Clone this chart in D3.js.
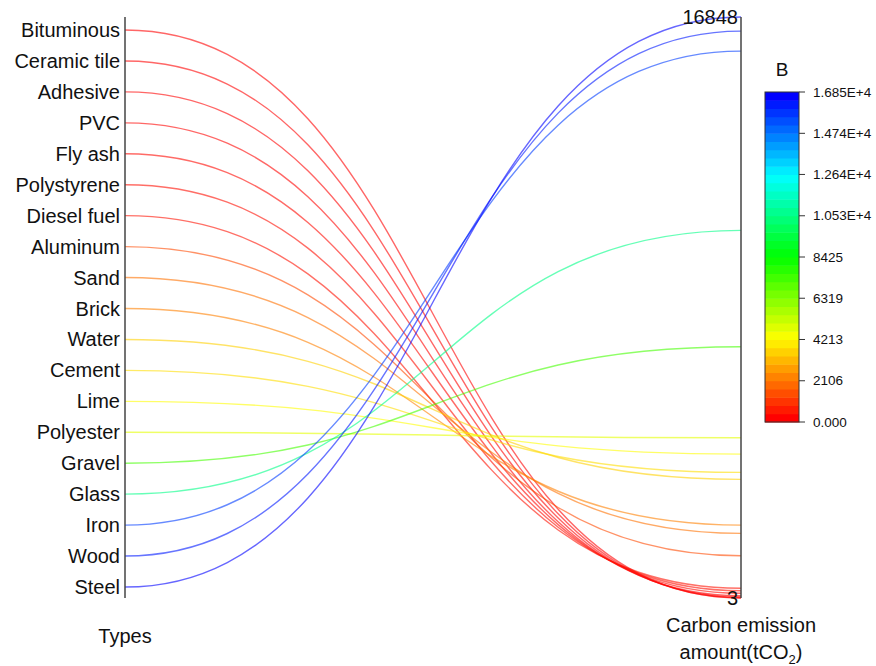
<html>
<head>
    <meta charset="utf-8">
    <title>Carbon emission by material type</title>
    <script src="https://cdn.jsdelivr.net/npm/d3@7"></script>
    <style type="text/css">
        body { margin: 0; background: #fff; }
        text { font-family: "Liberation Sans", Arial, sans-serif; fill: #111; }
    </style>
</head>
<body>
<script type="text/javascript">
    var types = ["Bituminous", "Ceramic tile", "Adhesive", "PVC", "Fly ash", "Polystyrene", "Diesel fuel",
        "Aluminum", "Sand", "Brick", "Water", "Cement", "Lime", "Polyester", "Gravel", "Glass", "Iron", "Wood", "Steel"];
    var emissions = [3, 12, 35, 70, 140, 215, 285, 1227, 1876, 2117, 3441, 3644, 4175, 4648, 7286, 10661, 15859, 16439, 16848];
    var colorTicks = [0, 2106, 4213, 6319, 8425, 10530, 12640, 14740, 16850];
    var colorTickLabels = ["0.000", "2106", "4213", "6319", "8425", "1.053E+4", "1.264E+4", "1.474E+4", "1.685E+4"];

    var w = 876, h = 666;
    var xLeft = 125, xRight = 741;

    var svg = d3.select("body").append("svg").attr("width", w).attr("height", h);

    var yLeft = d3.scalePoint().domain(types).range([30, 587]);
    var yRight = d3.scaleLinear().domain([3, 16848]).range([598, 17]);

    var color = d3.scaleLinear()
        .domain([0, 4213, 8425, 12640, 16850])
        .range(["#ff0000", "#ffff00", "#00ff00", "#00ffff", "#0000ff"]);

    var link = d3.linkHorizontal().x(function(d) { return d[0]; }).y(function(d) { return d[1]; });

    // curves
    svg.append("g").selectAll("path")
        .data(types)
        .enter()
        .append("path")
        .attr("d", function(d, i) {
            return link({source: [xLeft, yLeft(d)], target: [xRight, yRight(emissions[i])]});
        })
        .attr("fill", "none")
        .attr("stroke", function(d, i) { return color(emissions[i]); })
        .attr("stroke-opacity", 0.6)
        .attr("stroke-width", 1.4);

    // left axis
    svg.append("line")
        .attr("x1", xLeft).attr("x2", xLeft).attr("y1", 17).attr("y2", 598)
        .attr("stroke", "#444").attr("stroke-width", 1.5);

    svg.append("g").selectAll("text")
        .data(types)
        .enter()
        .append("text")
        .text(function(d) { return d; })
        .attr("x", xLeft - 5)
        .attr("y", function(d) { return yLeft(d); })
        .attr("dy", "0.35em")
        .attr("text-anchor", "end")
        .attr("font-size", "20px");

    // right axis
    svg.append("line")
        .attr("x1", xRight).attr("x2", xRight).attr("y1", yRight(16848)).attr("y2", yRight(3))
        .attr("stroke", "#444").attr("stroke-width", 1.5);

    svg.append("g").selectAll("text")
        .data(yRight.domain())
        .enter()
        .append("text")
        .text(function(d) { return d; })
        .attr("x", xRight - 3)
        .attr("y", function(d) { return yRight(d); })
        .attr("dy", "0.35em")
        .attr("text-anchor", "end")
        .attr("font-size", "20px");

    // axis titles
    svg.append("text").text("Types")
        .attr("x", xLeft).attr("y", 643)
        .attr("text-anchor", "middle").attr("font-size", "20px");

    svg.append("text").text("Carbon emission")
        .attr("x", xRight).attr("y", 632)
        .attr("text-anchor", "middle").attr("font-size", "20px");

    var t2 = svg.append("text")
        .attr("x", xRight).attr("y", 659)
        .attr("text-anchor", "middle").attr("font-size", "20px");
    t2.append("tspan").text("amount(tCO");
    t2.append("tspan").text("2").attr("font-size", "13px").attr("dy", "5");
    t2.append("tspan").text(")").attr("dy", "-5");

    // color bar
    var barX = 765, barW = 34, barTop = 92, barBottom = 422;
    var nBands = 40;
    var cy = d3.scaleLinear().domain([0, 16850]).range([barBottom, barTop]);
    var bands = d3.range(nBands);
    var bandH = (barBottom - barTop) / nBands;

    svg.append("g").selectAll("rect")
        .data(bands)
        .enter()
        .append("rect")
        .attr("x", barX)
        .attr("y", function(d) { return barBottom - (d + 1) * bandH; })
        .attr("width", barW)
        .attr("height", bandH + 0.5)
        .attr("fill", function(d) { return color(d / (nBands - 1) * 16850); });

    svg.append("rect")
        .attr("x", barX).attr("y", barTop).attr("width", barW).attr("height", barBottom - barTop)
        .attr("fill", "none").attr("stroke", "#333").attr("stroke-width", 1);

    var cAxis = svg.append("g");
    cAxis.selectAll("line")
        .data(colorTicks)
        .enter()
        .append("line")
        .attr("x1", barX + barW).attr("x2", barX + barW + 6)
        .attr("y1", function(d) { return cy(d); })
        .attr("y2", function(d) { return cy(d); })
        .attr("stroke", "#333");

    cAxis.selectAll("text")
        .data(colorTicks)
        .enter()
        .append("text")
        .text(function(d, i) { return colorTickLabels[i]; })
        .attr("x", barX + barW + 14)
        .attr("y", function(d) { return cy(d); })
        .attr("dy", "0.35em")
        .attr("font-size", "13.5px");

    svg.append("text").text("B")
        .attr("x", barX + barW / 2).attr("y", 76)
        .attr("text-anchor", "middle").attr("font-size", "19px");
</script>
</body>
</html>
